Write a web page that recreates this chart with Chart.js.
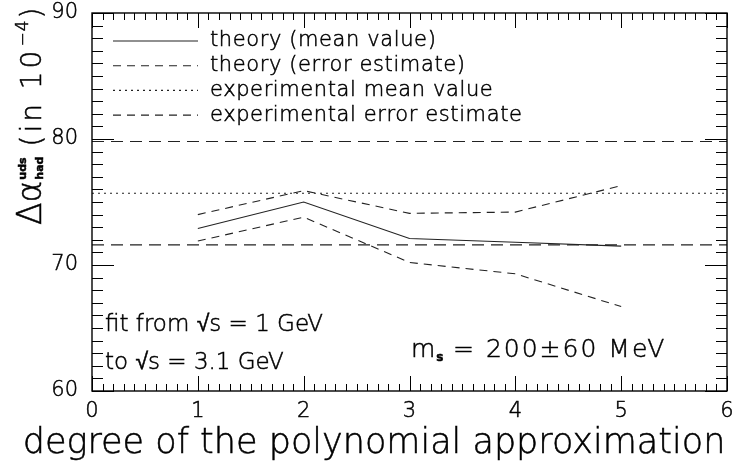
<!DOCTYPE html>
<html>
<head>
<meta charset="utf-8">
<script src="https://cdn.jsdelivr.net/npm/chart.js@4/dist/chart.umd.min.js"></script>
<style>
  html, body { margin: 0; padding: 0; background: #fff; }
  #wrap { width: 735px; height: 467px; }
</style>
</head>
<body>
<div id="wrap"><canvas id="chart" width="735" height="467"></canvas></div>
<script>
// degree of the polynomial approximation
var degrees = [1, 2, 3, 4, 5];

// theory values (in 10^-4)
var theoryMean = [72.9, 75.0, 72.1, 71.8, 71.5];
var theoryUpper = [74.0, 75.9, 74.1, 74.2, 76.3];
var theoryLower = [71.9, 73.8, 70.2, 69.3, 66.7];

// experimental band, drawn across the whole axis
var expRange = [0, 6];
var expMean = 75.7;
var expUpper = 79.8;
var expLower = 71.6;

// axis ticks
var xTicks = [0, 1, 2, 3, 4, 5, 6];
var yTicks = [60, 70, 80, 90];

var legendLabels = [
  'theory (mean value)',
  'theory (error estimate)',
  'experimental mean value',
  'experimental error estimate'
];

var FONT = '"DejaVu Sans", sans-serif';
var INK = '#222';

function pts(xs, ys) {
  return xs.map(function(x, i) { return { x: x, y: ys[i] }; });
}

function flat(v) {
  return expRange.map(function(x) { return { x: x, y: v }; });
}

// thin font, darkened with a light stroke; returns the drawn width
function txt(ctx, s, x, y, font, spacing) {
  ctx.font = font;
  ctx.letterSpacing = (spacing || 0) + 'px';
  ctx.fillText(s, x, y);
  ctx.lineWidth = 0.5;
  ctx.strokeStyle = '#000';
  ctx.strokeText(s, x, y);
  var w = ctx.measureText(s).width;
  ctx.letterSpacing = '0px';
  return w;
}

// frame, inward ticks, legend, annotations and the y title
var decorPlugin = {
  id: 'decor',
  afterDatasetsDraw: function(chart) {
    var ctx = chart.ctx;
    var a = chart.chartArea;
    var xs = chart.scales.x;
    var ys = chart.scales.y;
    ctx.save();
    ctx.strokeStyle = '#000';
    ctx.lineWidth = 1.4;
    ctx.setLineDash([]);
    ctx.strokeRect(a.left, a.top, a.right - a.left, a.bottom - a.top);

    ctx.lineWidth = 1;
    ctx.beginPath();
    // x ticks every 0.1, major every 1
    for (var i = 0; i <= 60; i++) {
      var px = Math.round(xs.getPixelForValue(i / 10)) + 0.5;
      var len = (i % 10 === 0) ? 15 : 7;
      ctx.moveTo(px, a.bottom); ctx.lineTo(px, a.bottom - len);
      ctx.moveTo(px, a.top); ctx.lineTo(px, a.top + len);
    }
    // y ticks every 1, major every 10
    for (var j = 60; j <= 90; j++) {
      var py = Math.round(ys.getPixelForValue(j)) + 0.5;
      var l2 = (j % 10 === 0) ? 22 : 11;
      ctx.moveTo(a.left, py); ctx.lineTo(a.left + l2, py);
      ctx.moveTo(a.right, py); ctx.lineTo(a.right - l2, py);
    }
    ctx.stroke();

    // legend
    var dashes = [[], [8, 6], [2, 4], [8, 6]];
    ctx.textBaseline = 'middle';
    ctx.fillStyle = '#000';
    for (var k = 0; k < legendLabels.length; k++) {
      var ly = 41 + k * 24.7;
      ctx.strokeStyle = INK;
      ctx.lineWidth = 1.1;
      ctx.setLineDash(dashes[k]);
      ctx.beginPath();
      ctx.moveTo(113, ly); ctx.lineTo(198, ly);
      ctx.stroke();
      ctx.setLineDash([]);
      txt(ctx, legendLabels[k], 210, ly, '300 21px ' + FONT, 0.6);
    }

    // annotations
    ctx.textBaseline = 'alphabetic';
    var F23 = '300 23px ' + FONT;
    txt(ctx, 'fit from \u221As = 1 GeV', 105, 331, F23, 0);
    txt(ctx, 'to \u221As = 3.1 GeV', 105, 369, F23, 0);
    var mw = txt(ctx, 'm', 411, 357, '300 25px ' + FONT, 0);
    txt(ctx, 's', 411 + mw + 1, 361, 'bold 12px ' + FONT, 0);
    txt(ctx, '= 200\u00B160 MeV', 453, 357, '300 25px ' + FONT, 2);

    // x axis title
    ctx.textAlign = 'center';
    txt(ctx, 'degree of the polynomial approximation', 374, 453, '300 35px ' + FONT, 0);

    // y axis title, rotated
    ctx.translate(41, 225);
    ctx.rotate(-Math.PI / 2);
    ctx.textAlign = 'left';
    var x = 0;
    x += txt(ctx, '\u0394\u03B1', x, 0, '300 33px ' + FONT, 0) + 1;
    txt(ctx, 'uds', x, -15, 'bold 11px ' + FONT, 0);
    x += txt(ctx, 'had', x, 2, 'bold 11px ' + FONT, 0) + 10;
    x += txt(ctx, '(in 10', x, 0, '300 28px ' + FONT, 3) + 1;
    x += txt(ctx, '\u22124', x, -13, '300 17px ' + FONT, 1) + 1;
    txt(ctx, ')', x, 0, '300 28px ' + FONT, 0);
    ctx.restore();
  }
};

var lineStyle = {
  borderColor: INK,
  borderWidth: 1.1,
  pointRadius: 0,
  fill: false,
  tension: 0
};

function ds(data, dash) {
  return Object.assign({ data: data, borderDash: dash }, lineStyle);
}

var tickFont = { family: FONT, size: 21, weight: 300 };

new Chart(document.getElementById('chart'), {
  type: 'line',
  data: {
    datasets: [
      ds(pts(degrees, theoryMean), []),
      ds(pts(degrees, theoryUpper), [8, 6]),
      ds(pts(degrees, theoryLower), [8, 6]),
      ds(flat(expMean), [2, 4]),
      ds(flat(expUpper), [12, 7]),
      ds(flat(expLower), [12, 7])
    ]
  },
  options: {
    responsive: false,
    animation: false,
    layout: { padding: { top: 13, right: 8, left: 0, bottom: 0 } },
    plugins: { legend: { display: false }, tooltip: { enabled: false } },
    scales: {
      x: {
        type: 'linear',
        min: 0, max: 6,
        grid: { display: false, drawTicks: false },
        border: { display: false },
        afterBuildTicks: function(s) { s.ticks = xTicks.map(function(v) { return { value: v }; }); },
        afterFit: function(s) { s.height = 76; s.paddingLeft = 0; s.paddingRight = 0; },
        ticks: { color: '#000', padding: 8, maxRotation: 0, font: tickFont,
                 textStrokeColor: '#000', textStrokeWidth: 0.5 }
      },
      y: {
        min: 60, max: 90,
        grid: { display: false, drawTicks: false },
        border: { display: false },
        afterBuildTicks: function(s) { s.ticks = yTicks.map(function(v) { return { value: v }; }); },
        afterFit: function(s) { s.width = 92; s.paddingTop = 0; s.paddingBottom = 0; },
        ticks: { color: '#000', padding: 14, font: tickFont,
                 textStrokeColor: '#000', textStrokeWidth: 0.5 }
      }
    }
  },
  plugins: [decorPlugin]
});
</script>
</body>
</html>
